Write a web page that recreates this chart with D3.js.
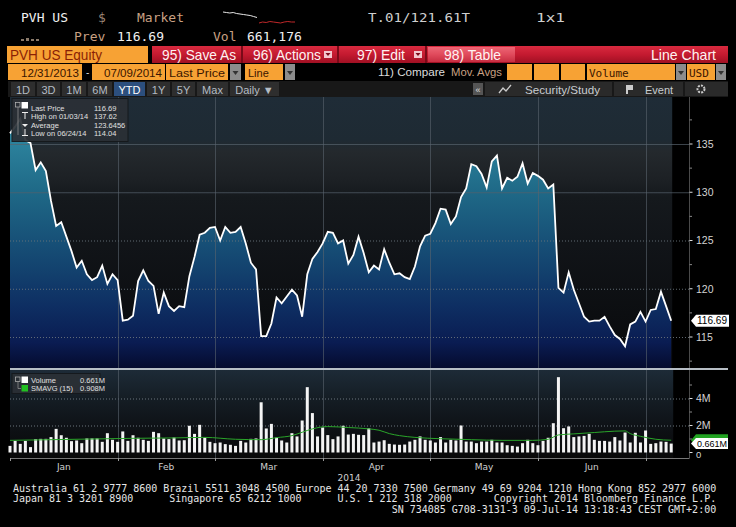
<!DOCTYPE html>
<html><head><meta charset="utf-8">
<script src="https://cdn.jsdelivr.net/npm/d3@7"></script>
<style>
html,body{margin:0;padding:0;background:#000;overflow:hidden}
svg{display:block}
</style></head><body>
<svg id="c" width="736" height="527"></svg>
<script>
// ---------------- DATA ----------------
// Daily closes, 12/31/2013 .. 07/08/2014 (trading days)
const prices = [
136.1,136.8,137.62,135.4,135.1,132.3,133.1,132.2,129.1,126.5,
126.9,125.4,123.9,122.2,122.9,121.5,120.9,121.2,122.4,120.5,
121.5,120.9,116.7,116.8,117.2,120.8,121.9,120.8,120.3,117.4,
119.6,118.2,117.7,118.2,118.1,121.3,123.3,125.6,125.8,126.3,
126.4,125.0,126.4,125.8,125.9,126.4,124.7,122.7,122.0,115.1,
115.1,116.4,119.1,118.5,119.2,119.9,119.3,117.1,121.5,123.1,
123.8,124.7,125.9,125.8,124.7,125.0,122.6,123.5,125.4,123.7,
121.7,122.4,122.0,124.1,122.7,121.5,121.6,121.2,121.0,122.3,
124.4,125.5,125.7,126.8,128.3,128.2,126.7,127.5,129.5,130.4,
132.9,132.7,131.9,130.5,133.2,133.8,130.4,131.5,131.2,131.6,
133.0,130.9,132.0,131.7,131.3,130.4,130.8,120.1,119.6,121.7,
119.9,118.5,117.1,116.6,116.7,116.7,117.1,116.1,115.2,114.8,
114.04,116.3,116.6,117.6,116.6,117.8,117.9,119.7,118.2,116.69];
// Daily volume, millions
const volumes = [
0.49,0.86,0.64,0.86,0.40,0.99,1.01,1.01,1.14,1.75,
1.28,1.09,0.84,0.89,0.69,1.04,1.04,1.04,0.79,1.43,
0.94,0.79,1.56,0.86,1.28,1.09,0.94,0.86,1.53,1.43,
1.04,0.99,1.11,0.89,0.91,1.98,1.38,2.05,1.11,0.79,
0.69,0.74,0.62,0.57,0.49,0.86,0.74,1.01,1.04,3.72,
1.78,2.12,1.11,0.89,0.74,1.43,1.19,2.37,4.84,2.92,
1.19,1.85,1.29,0.99,1.19,1.98,1.33,1.38,1.31,1.29,
1.79,0.74,0.81,0.91,0.64,0.59,0.57,0.59,0.81,0.94,
1.19,0.94,0.89,0.74,1.14,0.74,0.94,0.89,2.00,0.81,
0.81,0.69,0.81,0.81,0.94,0.74,0.74,0.54,0.49,0.44,
0.69,0.94,0.69,0.54,0.86,1.09,2.17,5.58,1.80,1.93,
1.14,1.19,1.23,1.38,0.94,0.86,0.86,0.81,1.14,0.89,
1.48,0.74,1.46,0.74,1.63,0.64,0.69,0.81,0.79,0.661];
// SMAVG(15) readings (day index, millions)
const smaIdx = [0,8,16,24,32,38,44,49,52,55,57,59,62,66,70,72,74,76,79,84,90,96,102,105,107,110,114,118,120,121,123,126,129];
const smaVal = [0.90,0.95,1.00,1.05,1.08,1.12,0.98,0.95,1.10,1.25,1.50,1.75,1.92,1.85,1.75,1.65,1.40,1.25,1.12,1.02,0.95,0.90,0.90,0.98,1.30,1.38,1.48,1.58,1.60,1.40,1.20,0.98,0.908];
const months = ["Jan","Feb","Mar","Apr","May","Jun"];
const monthEndIdx = [21,40,61,82,103,124];
const priceTicks = [115,120,125,130,135];
const priceMinor = [112.5,117.5,122.5,127.5,132.5,137.5];
const volTicks = [0,2,4];
const volTickLabels = ["0","2M","4M"];
const volMinor = [1,3,5];
const legendPrice = [["Last Price","116.69"],["High on 01/03/14","137.62"],["Average","123.6456"],["Low on 06/24/14","114.04"]];
const legendVol = [["Volume","0.661M"],["SMAVG (15)","0.908M"]];
const sparkW = [12,12.5,13,12.5,13.5,14,14.5,15,15.5,16.5,17.5];
const sparkR = [23,22,22.5,21.5,22,22.5,23,22,21.5,22,22];
const periodBtns = ["1D","3D","1M","6M","YTD","1Y","5Y","Max","Daily ▼"];
const periodEdges = [10,36,61,87,113,146,171,196,229,280];

// ---------------- SETUP ----------------
const svg = d3.select("#c");
const defs = svg.append("defs");
function grad(id, y1, y2, stops, x1=0, x2=0){
  const g = defs.append("linearGradient").attr("id",id).attr("gradientUnits","userSpaceOnUse")
    .attr("x1",x1).attr("x2",x2).attr("y1",y1).attr("y2",y2);
  stops.forEach(s=>g.append("stop").attr("offset",s[0]).attr("stop-color",s[1]));
}
grad("bgP",97,368,[[0,"#1f2c37"],[0.16,"#1e2a33"],[0.2,"#24292d"],[0.3,"#1d2125"],[0.37,"#15191d"],[0.55,"#111418"],[0.8,"#0c0e11"],[1,"#08090b"]]);
grad("areaG",115,368,[[0,"#3390a8"],[0.3,"#1f6987"],[0.55,"#154a73"],[0.75,"#0e2f63"],[0.9,"#0a1c52"],[1,"#050b2e"]]);
grad("bgV",370,458,[[0,"#1d2b37"],[0.35,"#141c23"],[0.7,"#0d1014"],[1,"#090909"]]);
grad("redG",46,63,[[0,"#d92a3f"],[0.5,"#c41a30"],[1,"#a01023"]]);
grad("tblG",46,63,[[0,"#ef6a78"],[0.5,"#e04a5c"],[1,"#c42a3e"]]);

const N = prices.length;
const x = d3.scaleLinear().domain([0, N-1]).range([10, 671.2]);
const yP = d3.scaleLinear().domain([115,135]).range([337,144]);
const yV = d3.scaleLinear().domain([0,4]).range([452.5,398.5]);
const plotL = 10, plotR = 689.5, pTop = 97, pBot = 368, vTop = 370, vBot = 458;

// ---------------- HEADER ----------------
const mono = "'DejaVu Sans Mono','Liberation Mono',monospace";
const sans = "'Liberation Sans','Arial',sans-serif";
const h = svg.append("g").attr("font-family",mono).attr("font-size",13);
h.append("text").attr("x",21).attr("y",22).attr("fill","#f0f0f0").text("PVH US");
h.append("text").attr("x",98).attr("y",22).attr("fill","#9c8676").text("$");
h.append("text").attr("x",137).attr("y",22).attr("fill","#c9a183").text("Market");
h.append("text").attr("x",368).attr("y",22).attr("fill","#cfcfcf").attr("textLength",102).attr("lengthAdjust","spacingAndGlyphs").text("T.01/121.61T");
h.append("text").attr("x",536).attr("y",22).attr("fill","#cfcfcf").attr("textLength",29).attr("lengthAdjust","spacingAndGlyphs").text("1x1");
h.append("text").attr("x",74).attr("y",41).attr("fill","#c9a183").text("Prev");
h.append("text").attr("x",117).attr("y",41).attr("fill","#f0f0f0").text("116.69");
h.append("text").attr("x",213).attr("y",41).attr("fill","#c9a183").text("Vol");
h.append("text").attr("x",247).attr("y",41).attr("fill","#f0f0f0").text("661,176");
// small icon
[[21,39,3,2],[26,38,3,3],[31,39,3,2],[36,39,3,2]].forEach(r=>h.append("rect").attr("x",r[0]).attr("y",r[1]).attr("width",r[2]).attr("height",r[3]).attr("fill","#8a7a6a"));
// sparkline
const sxW = d3.scaleLinear().domain([0,sparkW.length-1]).range([223,257]);
const sxR = d3.scaleLinear().domain([0,sparkR.length-1]).range([259,295]);
h.append("path").attr("d",d3.line().x((d,i)=>sxW(i)).y(d=>d)(sparkW)).attr("fill","none").attr("stroke","#e8e8e8").attr("stroke-width",1);
h.append("path").attr("d",d3.line().x((d,i)=>sxR(i)).y(d=>d)(sparkR)).attr("fill","none").attr("stroke","#c0282a").attr("stroke-width",1);

// Orange/red toolbar
const tb = svg.append("g").attr("font-family",sans);
tb.append("rect").attr("x",7).attr("y",46).attr("width",141).attr("height",17).attr("fill","#f7a234");
tb.append("text").attr("x",10).attr("y",60).attr("font-size",15).attr("fill","#8a1f05").attr("textLength",92).attr("lengthAdjust","spacingAndGlyphs").text("PVH US Equity");
tb.append("rect").attr("x",152).attr("y",46).attr("width",576).attr("height",17).attr("fill","url(#redG)");
tb.append("rect").attr("x",428).attr("y",47).attr("width",87).attr("height",15).attr("fill","url(#tblG)");
[241,337,425].forEach(sx=>tb.append("rect").attr("x",sx).attr("y",46).attr("width",2).attr("height",17).attr("fill","#7a0a18"));
[["95) Save As",162,74],["96) Actions",253,68],["97) Edit",357,48],["98) Table",444,57],["Line Chart",651,65]].forEach(t=>
  tb.append("text").attr("x",t[1]).attr("y",60).attr("font-size",14.5).attr("fill","#fff2f2").attr("textLength",t[2]).attr("lengthAdjust","spacingAndGlyphs").text(t[0]));
[324,414].forEach(dx=>{
  tb.append("rect").attr("x",dx).attr("y",51).attr("width",8).attr("height",7).attr("fill","#f3c6cc");
  tb.append("path").attr("d",`M${dx+1.5},53 L${dx+6.5},53 L${dx+4},56 Z`).attr("fill","#7a0a18");
});

// Row 3
const r3 = svg.append("g").attr("font-family",sans);
[[8,82],[92,165],[166,228],[245,283],[507,532],[534,559],[561,585],[587,675],[687,715]].forEach(b=>
  r3.append("rect").attr("x",b[0]).attr("y",64).attr("width",b[1]-b[0]).attr("height",16).attr("fill","#f7a234"));
[[230,241],[285,295],[676,686],[716,726]].forEach(b=>{
  r3.append("rect").attr("x",b[0]).attr("y",64).attr("width",b[1]-b[0]).attr("height",16).attr("fill","#8c8c8c");
  const cx=(b[0]+b[1])/2;
  r3.append("path").attr("d",`M${cx-3},71 L${cx+3},71 L${cx},75 Z`).attr("fill","#333");
});
r3.append("text").attr("x",21).attr("y",76.5).attr("font-size",11).attr("fill","#3a1500").attr("textLength",58).attr("lengthAdjust","spacingAndGlyphs").text("12/31/2013");
r3.append("text").attr("x",86).attr("y",76).attr("font-size",10).attr("fill","#ddd").text("-");
r3.append("text").attr("x",104).attr("y",76.5).attr("font-size",11).attr("fill","#3a1500").attr("textLength",58).attr("lengthAdjust","spacingAndGlyphs").text("07/09/2014");
r3.append("text").attr("x",169).attr("y",76.5).attr("font-size",11).attr("fill","#3a1500").attr("textLength",56).attr("lengthAdjust","spacingAndGlyphs").text("Last Price");
r3.append("text").attr("x",248).attr("y",76.5).attr("font-size",11).attr("fill","#3a1500").text("Line");
r3.append("text").attr("x",378).attr("y",76).attr("font-size",11).attr("fill","#dcdcdc").attr("textLength",67).attr("lengthAdjust","spacingAndGlyphs").text("11) Compare");
r3.append("text").attr("x",451).attr("y",76).attr("font-size",11).attr("fill","#c9a183").attr("textLength",51).attr("lengthAdjust","spacingAndGlyphs").text("Mov. Avgs");
r3.append("text").attr("x",589).attr("y",76.5).attr("font-family",mono).attr("font-size",11).attr("fill","#3a1500").text("Volume");
r3.append("text").attr("x",689).attr("y",76.5).attr("font-family",mono).attr("font-size",11).attr("fill","#3a1500").text("USD");

// Row 4
const r4 = svg.append("g").attr("font-family",sans).attr("font-size",11);
r4.append("rect").attr("x",8).attr("y",81).attr("width",720).attr("height",16).attr("fill","#181818");
periodBtns.forEach((b,i)=>{
  const a=periodEdges[i]+1, z=periodEdges[i+1]-1;
  r4.append("rect").attr("x",a).attr("y",82).attr("width",z-a).attr("height",14).attr("fill", b==="YTD"?"#2c4f7e":"#2e2e2e");
  r4.append("text").attr("x",(a+z)/2).attr("y",93.5).attr("text-anchor","middle").attr("fill", b==="YTD"?"#ffffff":"#b4bcc4").text(b);
});
r4.append("rect").attr("x",473).attr("y",83).attr("width",10).attr("height",12).attr("fill","#555");
r4.append("text").attr("x",478).attr("y",93).attr("text-anchor","middle").attr("font-size",9).attr("fill","#ddd").text("«");
r4.append("rect").attr("x",485).attr("y",82).attr("width",127).attr("height",14).attr("fill","#2a2a2a");
r4.append("rect").attr("x",614).attr("y",82).attr("width",69).attr("height",14).attr("fill","#2a2a2a");
r4.append("rect").attr("x",685).attr("y",82).attr("width",43).attr("height",14).attr("fill","#2a2a2a");
r4.append("path").attr("d","M499,93 L503,88 L506,91 L511,85").attr("fill","none").attr("stroke","#ccc").attr("stroke-width",1.3);
r4.append("text").attr("x",525).attr("y",93.5).attr("fill","#c8ccd0").attr("textLength",75).attr("lengthAdjust","spacingAndGlyphs").text("Security/Study");
r4.append("path").attr("d","M626,85 L633,85 L633,90 L628,90 L628,94 L626,94 Z").attr("fill","#ccc");
r4.append("text").attr("x",645).attr("y",93.5).attr("fill","#c8ccd0").text("Event");
r4.append("circle").attr("cx",701).attr("cy",89).attr("r",3.5).attr("fill","none").attr("stroke","#ccc").attr("stroke-width",2).attr("stroke-dasharray","2 1.2");

// ---------------- PRICE PANEL ----------------
const pp = svg.append("g");
pp.append("rect").attr("x",plotL).attr("y",pTop).attr("width",x(N-1)-plotL+1).attr("height",pBot-pTop).attr("fill","url(#bgP)");
pp.append("path").datum(prices).attr("d",d3.area().x((d,i)=>x(i)).y0(pBot).y1(d=>yP(d))).attr("fill","url(#areaG)");
// grid
pp.selectAll(".hg").data(priceTicks).join("line").attr("x1",plotL).attr("x2",plotR).attr("y1",d=>yP(d)+0.5).attr("y2",d=>yP(d)+0.5)
  .attr("stroke",d=>d>=130?"#56626c":"#6a747c").attr("stroke-width",1).attr("stroke-dasharray",d=>d>=130?null:"1 2").attr("opacity",d=>d>=130?0.7:0.9);
pp.selectAll(".vg").data(monthEndIdx).join("line").attr("x1",d=>Math.round(x(d))+0.5).attr("x2",d=>Math.round(x(d))+0.5).attr("y1",pTop).attr("y2",pBot)
  .attr("stroke","#5a646e").attr("opacity",0.6);
pp.append("path").datum(prices).attr("d",d3.line().x((d,i)=>x(i)).y(d=>yP(d))).attr("fill","none").attr("stroke","#ffffff").attr("stroke-width",1.8).attr("stroke-linejoin","miter");
// right axis
const ax = svg.append("g").attr("font-family",sans).attr("font-size",10.5).attr("fill","#d4d4d4");
ax.append("line").attr("x1",plotR).attr("x2",plotR).attr("y1",pTop).attr("y2",vBot).attr("stroke","#4a4a4a");
ax.selectAll(".pt").data(priceTicks).join("line").attr("x1",plotR).attr("x2",plotR+3).attr("y1",d=>yP(d)).attr("y2",d=>yP(d)).attr("stroke","#ddd");
ax.selectAll(".pm").data(priceMinor).join("line").attr("x1",plotR).attr("x2",plotR+2.5).attr("y1",d=>yP(d)).attr("y2",d=>yP(d)).attr("stroke","#888");
ax.selectAll(".pl").data(priceTicks).join("text").attr("x",696).attr("y",d=>yP(d)+3.8).text(d=>d);
// last price tag
const lp = yP(prices[N-1]);
ax.append("path").attr("d",`M691,${lp} L696,${lp-6} L729,${lp-6} L729,${lp+6} L696,${lp+6} Z`).attr("fill","#fff");
ax.append("text").attr("x",697).attr("y",lp+3.7).attr("fill","#000").attr("font-size",10).attr("textLength",30).attr("lengthAdjust","spacingAndGlyphs").text(prices[N-1].toFixed(2));

// price legend
const lg = svg.append("g").attr("font-family",sans).attr("font-size",7.5).attr("fill","#e0e0e0");
lg.append("rect").attr("x",12).attr("y",98.5).attr("width",116).attr("height",43).attr("fill","#2b3036").attr("opacity",0.92).attr("stroke","#15181b");
legendPrice.forEach((r,i)=>{
  const yy = 108 + i*8.5;
  lg.append("text").attr("x",31).attr("y",yy+2.5).text(r[0]);
  lg.append("text").attr("x",94).attr("y",yy+2.5).text(r[1]);
});
lg.append("rect").attr("x",15.5).attr("y",102.5).attr("width",4.5).attr("height",4.5).attr("fill","none").attr("stroke","#bbb").attr("stroke-width",0.7);
lg.append("rect").attr("x",21.5).attr("y",102).attr("width",6.5).attr("height",6.5).attr("fill","#fff");
lg.append("path").attr("d","M18,107 L18,135").attr("stroke","#999").attr("stroke-width",0.7);
lg.append("path").attr("d","M22,112.5 L28,112.5 M25,112.5 L25,119").attr("stroke","#eee").attr("stroke-width",1);
lg.append("path").attr("d","M22,124 L28,124 L25,127 Z").attr("fill","#eee");
lg.append("path").attr("d","M25,129 L25,135.5 M22,135.5 L28,135.5").attr("stroke","#eee").attr("stroke-width",1);

// separator
svg.append("rect").attr("x",plotL).attr("y",368).attr("width",718).attr("height",2).attr("fill","#b7bec5");

// ---------------- VOLUME PANEL ----------------
const vp = svg.append("g");
vp.append("rect").attr("x",plotL).attr("y",vTop).attr("width",x(N-1)-plotL+2).attr("height",vBot-vTop).attr("fill","url(#bgV)");
vp.selectAll(".vh").data([2,4]).join("line").attr("x1",plotL).attr("x2",plotR).attr("y1",d=>yV(d)+0.5).attr("y2",d=>yV(d)+0.5)
  .attr("stroke","#6a747c").attr("stroke-dasharray","1 2");
vp.selectAll(".vv").data(monthEndIdx).join("line").attr("x1",d=>Math.round(x(d))+0.5).attr("x2",d=>Math.round(x(d))+0.5).attr("y1",vTop).attr("y2",vBot)
  .attr("stroke","#5a646e").attr("opacity",0.6);
vp.selectAll(".bar").data(volumes).join("rect").attr("x",(d,i)=>x(i)-1.5).attr("width",3).attr("y",d=>yV(d)).attr("height",d=>yV(0)-yV(d)).attr("fill","#f4f4f4");
const smaPts = smaIdx.map((d,i)=>[d,smaVal[i]]);
vp.append("path").attr("d",d3.line().curve(d3.curveMonotoneX).x(d=>x(d[0])).y(d=>yV(d[1]))(smaPts)).attr("fill","none").attr("stroke","#2aa52a").attr("stroke-width",1);
// volume axis
const vax = svg.append("g").attr("font-family",sans).attr("font-size",10.5).attr("fill","#d4d4d4");
vax.selectAll(".vt").data(volTicks).join("line").attr("x1",plotR).attr("x2",plotR+3).attr("y1",d=>yV(d)).attr("y2",d=>yV(d)).attr("stroke","#ddd");
vax.selectAll(".vm").data(volMinor).join("line").attr("x1",plotR).attr("x2",plotR+2.5).attr("y1",d=>yV(d)).attr("y2",d=>yV(d)).attr("stroke","#888");
vax.selectAll(".vl").data(volTicks).join("text").attr("x",696).attr("y",d=>d===0?yV(d)+5:yV(d)+3.8).attr("font-size",d=>d===0?9.5:10.5).text((d,i)=>volTickLabels[i]);
const ys = yV(smaVal[smaVal.length-1]), yv = yV(volumes[N-1]);
vax.append("path").attr("d",`M691,${ys} L696,${ys-6} L728,${ys-6} L728,${ys+6} L696,${ys+6} Z`).attr("fill","#22a322");
vax.append("path").attr("d",`M691,${yv} L696,${yv-5.5} L728,${yv-5.5} L728,${yv+5.5} L696,${yv+5.5} Z`).attr("fill","#fff");
vax.append("text").attr("x",697).attr("y",yv+3.2).attr("fill","#000").attr("font-size",9).text(volumes[N-1].toFixed(3)+"M");
// volume legend
const vl = svg.append("g").attr("font-family",sans).attr("font-size",7.5).attr("fill","#e0e0e0");
vl.append("rect").attr("x",12).attr("y",373.5).attr("width",88).attr("height",20).attr("fill","#2b3036").attr("opacity",0.92).attr("stroke","#15181b");
vl.append("rect").attr("x",15.5).attr("y",377).attr("width",4.5).attr("height",4.5).attr("fill","none").attr("stroke","#bbb").attr("stroke-width",0.7);
vl.append("path").attr("d","M18,381.5 L18,388.5 L21,388.5").attr("stroke","#999").attr("stroke-width",0.7).attr("fill","none");
vl.append("rect").attr("x",21.5).attr("y",376.5).attr("width",6.5).attr("height",6.5).attr("fill","#fff");
vl.append("rect").attr("x",21.5).attr("y",385).attr("width",6.5).attr("height",6.5).attr("fill","#22c022");
legendVol.forEach((r,i)=>{
  const yy = 382.5 + i*8.3;
  vl.append("text").attr("x",31).attr("y",yy).text(r[0]);
  vl.append("text").attr("x",80).attr("y",yy).text(r[1]);
});

// ---------------- X AXIS ----------------
const xa = svg.append("g").attr("font-family","'DejaVu Sans',sans-serif").attr("font-size",9).attr("fill","#d0d0d0");
xa.append("line").attr("x1",plotL).attr("x2",plotR).attr("y1",vBot+0.5).attr("y2",vBot+0.5).attr("stroke","#777");
xa.selectAll(".xt").data([0].concat(monthEndIdx)).join("line").attr("x1",d=>Math.round(x(d))+0.5).attr("x2",d=>Math.round(x(d))+0.5).attr("y1",vBot).attr("y2",vBot+3).attr("stroke","#999");
const bounds = [0].concat(monthEndIdx);
xa.selectAll(".ml").data(months).join("text").attr("x",(d,i)=>(x(bounds[i])+x(bounds[i+1]))/2).attr("y",470).attr("text-anchor","middle").text(d=>d);
xa.append("text").attr("x",349).attr("y",481).attr("text-anchor","middle").text("2014");

// ---------------- FOOTER ----------------
const ft = svg.append("g").attr("font-family",mono).attr("font-size",10).attr("fill","#e6e6e6");
const cw = 6.01;
[
  [0,491.5,"Australia 61 2 9777 8600 Brazil 5511 3048 4500 Europe 44 20 7330 7500 Germany 49 69 9204 1210 Hong Kong 852 2977 6000"],
  [0,501.5,"Japan 81 3 3201 8900"],[26,501.5,"Singapore 65 6212 1000"],[54,501.5,"U.S. 1 212 318 2000"],[80,501.5,"Copyright 2014 Bloomberg Finance L.P."],
  [63,512.5,"SN 734085 G708-3131-3 09-Jul-14 13:18:43 CEST GMT+2:00"]
].forEach(t=>ft.append("text").attr("x",13+t[0]*cw).attr("y",t[1]).attr("textLength",t[2].length*cw).attr("lengthAdjust","spacingAndGlyphs").text(t[2]));
</script>
</body></html>
